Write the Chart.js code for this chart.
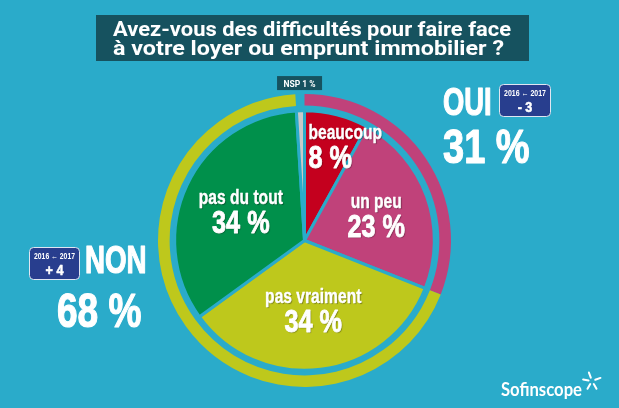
<!DOCTYPE html>
<html>
<head>
<meta charset="utf-8">
<script src="https://cdn.jsdelivr.net/npm/chart.js@4/dist/chart.umd.min.js"></script>
<style>
  html, body { margin: 0; padding: 0; background: #2aabca; }
  #wrap { position: relative; width: 619px; height: 408px; }
</style>
</head>
<body>
<div id="wrap"><canvas id="chart" width="619" height="408"></canvas></div>
<script>
// inner pie: detailed answers
const sliceLabels = ['beaucoup', 'un peu', 'pas vraiment', 'pas du tout', 'NSP'];
const sliceValues = [8, 23, 34, 34, 1];
// outer ring: grouped answers (last one is the NSP gap)
const groupLabels = ['OUI', 'NON', 'NSP'];
const groupValues = [31, 68, 1];
const groupChange = ['- 3', '+ 4'];
const changeLabel = '2016 \u2190 2017';

const TEAL = '#2aabca';
const DARK = '#16525f';
const sliceColors = ['#c4001e', '#c0427a', '#bec81c', '#00904b', '#c9c9c9'];
const ringColors = ['#c0427a', '#bec81c', 'rgba(0,0,0,0)'];
const COND = '"Liberation Sans", Arial, sans-serif';

// where to put each slice label: fraction of radius, position along the arc
const labelLayout = [
  { f: 0.732, at: 0.083, align: 'left' },
  { f: 0.587, at: 0.5, align: 'center' },
  { f: 0.537, at: 0.5, align: 'center' },
  { f: 0.542, at: 0.5, align: 'center' },
  null
];

function drawText(ctx, s, x, y, size, o) {
  o = o || {};
  ctx.save();
  ctx.font = (o.weight || 'bold') + ' ' + size + 'px ' + (o.family || COND);
  ctx.fillStyle = o.color || '#fff';
  ctx.textBaseline = 'alphabetic';
  ctx.textAlign = o.align || 'center';
  let sx = o.sx || 1;
  if (o.width) sx = o.width / ctx.measureText(s).width;
  if (o.shadow) {
    ctx.shadowColor = 'rgba(0,0,0,0.35)';
    ctx.shadowOffsetX = 1;
    ctx.shadowOffsetY = 1;
    ctx.shadowBlur = 1;
  }
  ctx.translate(x, y);
  ctx.scale(sx, 1);
  ctx.fillText(s, 0, 0);
  if (o.heavy) {
    // thicken a little, the original face is a heavy condensed one
    ctx.shadowColor = 'rgba(0,0,0,0)';
    ctx.strokeStyle = o.color || '#fff';
    ctx.lineWidth = o.heavy;
    ctx.lineJoin = 'round';
    ctx.strokeText(s, 0, 0);
  }
  ctx.restore();
}

function badge(ctx, x, y, w, h, change) {
  ctx.save();
  ctx.beginPath();
  ctx.roundRect(x, y, w, h, 4);
  ctx.fillStyle = '#283e8e';
  ctx.fill();
  ctx.strokeStyle = '#dfe6f2';
  ctx.lineWidth = 1;
  ctx.stroke();
  ctx.restore();
  drawText(ctx, changeLabel, x + w / 2, y + 11, 9, { width: w - 9 });
  drawText(ctx, change, x + w / 2, y + 27.5, 14, { sx: 0.9, heavy: 0.5 });
}

const decorations = {
  id: 'decorations',
  afterDraw(chart) {
    const ctx = chart.ctx;

    // title box
    ctx.fillStyle = DARK;
    ctx.fillRect(96, 15, 433, 46);
    drawText(ctx, 'Avez-vous des difficultés pour faire face', 312, 35.5, 19.5,
      { family: 'Roboto, sans-serif', width: 398 });
    drawText(ctx, 'à votre loyer ou emprunt immobilier ?', 308.5, 55, 19.5,
      { family: 'Roboto, sans-serif', width: 391 });

    // slice labels
    const pie = chart.getDatasetMeta(2);
    pie.data.forEach((arc, i) => {
      const lay = labelLayout[i];
      if (!lay) return;
      const p = arc.getProps(['x', 'y', 'startAngle', 'endAngle', 'outerRadius'], true);
      const a = p.startAngle + (p.endAngle - p.startAngle) * lay.at;
      const r = p.outerRadius * lay.f;
      const ax = p.x + Math.cos(a) * r;
      const ay = p.y + Math.sin(a) * r;
      drawText(ctx, sliceLabels[i], ax, ay - 7, 19.5, { align: lay.align, sx: 0.8, shadow: true, heavy: 0.4 });
      drawText(ctx, sliceValues[i] + ' %', ax, ay + 22.5, 32, { align: lay.align, sx: 0.79, shadow: true, heavy: 0.9 });
    });

    // NSP tag above the ring gap
    const ring = chart.getDatasetMeta(0);
    const g = ring.data[2].getProps(['x', 'y', 'startAngle', 'endAngle', 'outerRadius'], true);
    const ga = (g.startAngle + g.endAngle) / 2;
    const nx = g.x + Math.cos(ga) * (g.outerRadius + 11);
    const ny = g.y + Math.sin(ga) * (g.outerRadius + 11);
    ctx.fillStyle = DARK;
    ctx.fillRect(nx - 22.5, ny - 7, 45, 14);
    drawText(ctx, 'NSP ' + sliceValues[4] + ' %', nx, ny + 3.5, 8.5, { family: 'Roboto, sans-serif' });

    // OUI block
    drawText(ctx, groupLabels[0], 443, 115, 38, { align: 'left', sx: 0.72, heavy: 1.2 });
    drawText(ctx, groupValues[0] + ' %', 443, 163, 47.5, { align: 'left', sx: 0.8, heavy: 1.2 });
    badge(ctx, 499.5, 84.5, 51, 32, groupChange[0]);

    // NON block
    drawText(ctx, groupLabels[1], 85, 273, 38, { align: 'left', sx: 0.73, heavy: 1.2 });
    drawText(ctx, groupValues[1] + ' %', 57, 327, 47.5, { align: 'left', sx: 0.78, heavy: 1.2 });
    badge(ctx, 29.5, 247.5, 50, 32, groupChange[1]);

    // logo
    drawText(ctx, 'Sofinscope', 501, 396, 18, { align: 'left', family: 'Lato, sans-serif', width: 81 });
    ctx.save();
    ctx.strokeStyle = '#fff';
    ctx.lineCap = 'round';
    ctx.lineWidth = 2;
    [-20, 70, 150, 210, 280].forEach(d => {
      const t = (d - 90) * Math.PI / 180;
      ctx.beginPath();
      ctx.moveTo(592 + Math.cos(t) * 3.5, 381 + Math.sin(t) * 3.5);
      ctx.lineTo(592 + Math.cos(t) * 9, 381 + Math.sin(t) * 9);
      ctx.stroke();
    });
    ctx.restore();
  }
};

new Chart(document.getElementById('chart'), {
  type: 'pie',
  data: {
    labels: sliceLabels,
    datasets: [
      {
        label: 'groups',
        data: groupValues,
        backgroundColor: ringColors,
        borderWidth: 0,
        weight: 11.5
      },
      {
        label: 'spacer',
        data: [1],
        backgroundColor: 'rgba(0,0,0,0)',
        borderWidth: 0,
        weight: 5
      },
      {
        label: 'answers',
        data: sliceValues,
        backgroundColor: sliceColors,
        borderColor: TEAL,
        borderWidth: 3,
        hoverBorderWidth: 3,
        weight: 128.5
      }
    ]
  },
  options: {
    responsive: false,
    animation: false,
    events: [],
    hoverOffset: 0,
    layout: { padding: { left: 158, right: 168, top: 94, bottom: 21 } },
    plugins: {
      legend: { display: false },
      tooltip: { enabled: false }
    }
  },
  plugins: [decorations]
});
</script>
</body>
</html>
